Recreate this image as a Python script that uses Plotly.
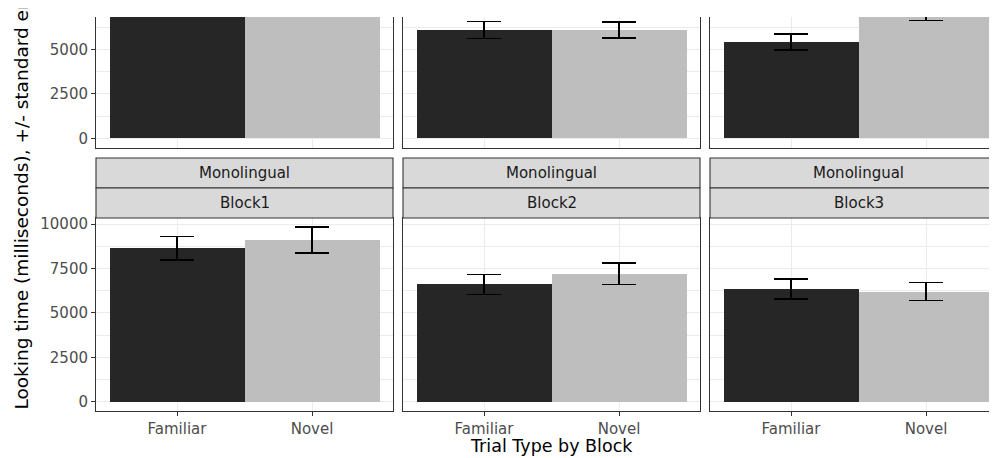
import plotly.graph_objects as go
from plotly.subplots import make_subplots

# ---------------- data ----------------
groups = ["Bilingual", "Monolingual"]
blocks = ["Block1", "Block2", "Block3"]
trial_types = ["Familiar", "Novel"]

bilingual_familiar = [8000, 6100, 5420]
bilingual_novel = [8400, 6110, 7100]
bilingual_familiar_se = [600, 470, 440]
bilingual_novel_se = [650, 450, 460]

monolingual_familiar = [8640, 6600, 6350]
monolingual_novel = [9110, 7200, 6200]
monolingual_familiar_se = [660, 560, 570]
monolingual_novel_se = [730, 600, 510]

y_ticks = [0, 2500, 5000, 7500, 10000]
x_title = "Trial Type by Block"
y_title = "Looking time (milliseconds), +/- standard error"

# ---------------- layout constants (screen pixels) ----------------
OFF = 8                     # default page body margin
W, H = 997 - OFF, 458 - OFF  # figure size so that the page fits the window
FONT = "DejaVu Sans"
TICK_SIZE = 15
bar_colors = ["#262626", "#BEBEBE"]
col_left = [96, 403, 710]
panel_w = 297
unit_px = panel_w / 2.2
rows_px = [(17, 147.7), (218, 411)]
y_full = [-523, 10338]
px_per_unit = (rows_px[1][1] - rows_px[1][0]) / (y_full[1] - y_full[0])
top_visible = y_full[0] + (rows_px[0][1] - rows_px[0][0]) / px_per_unit


def px(xs):
    return (xs - OFF) / W


def py(ys):
    return 1 - (ys - OFF) / H


series = {
    "Bilingual": (bilingual_familiar, bilingual_novel, bilingual_familiar_se, bilingual_novel_se),
    "Monolingual": (monolingual_familiar, monolingual_novel, monolingual_familiar_se, monolingual_novel_se),
}

fig = make_subplots(rows=2, cols=3)

for r, g in enumerate(groups):
    fam, nov, fam_se, nov_se = series[g]
    for c in range(3):
        fig.add_trace(
            go.Bar(
                x=trial_types,
                y=[fam[c], nov[c]],
                width=[1, 1],
                marker=dict(color=bar_colors, line=dict(width=0)),
                error_y=dict(type="data", array=[fam_se[c], nov_se[c]],
                             color="black", thickness=1.6, width=17),
                showlegend=False,
            ),
            row=r + 1, col=c + 1,
        )

for r in range(2):
    for c in range(3):
        idx = r * 3 + c + 1
        xa = "xaxis" if idx == 1 else f"xaxis{idx}"
        ya = "yaxis" if idx == 1 else f"yaxis{idx}"
        right_px = min(col_left[c] + panel_w, 997)
        visible_w = right_px - col_left[c]
        xr = [-0.6, -0.6 + visible_w / unit_px]
        top_px, bot_px = rows_px[r]
        yr = [y_full[0], top_visible] if r == 0 else y_full
        bottom = r == 1
        fig.layout[xa].update(
            domain=[px(col_left[c]), min(1.0, px(right_px))], range=xr, type="category",
            categoryorder="array", categoryarray=trial_types,
            showgrid=True, gridcolor="#EBEBEB", gridwidth=1.07,
            showline=True, linecolor="#333333", linewidth=1,
            mirror=bottom, zeroline=False,
            ticks="outside" if bottom else "", ticklen=4, tickcolor="#333333",
            tickwidth=1, showticklabels=bottom,
            tickfont=dict(family=FONT, size=TICK_SIZE, color="#4D4D4D"),
            automargin=False, fixedrange=True,
        )
        fig.layout[ya].update(
            domain=[py(bot_px), py(top_px)], range=yr,
            tickmode="array", tickvals=y_ticks, ticktext=[str(v) for v in y_ticks],
            showgrid=True, gridcolor="#EBEBEB", gridwidth=1.07,
            minor=dict(tickmode="linear", tick0=1250, dtick=2500, showgrid=True,
                       gridcolor="#EBEBEB", gridwidth=0.55, ticks=""),
            showline=True, linecolor="#333333", linewidth=1,
            mirror=(c < 2), zeroline=False,
            ticks="outside" if c == 0 else "", ticklen=4, tickcolor="#333333",
            tickwidth=1, showticklabels=(c == 0),
            tickfont=dict(family=FONT, size=TICK_SIZE, color="#4D4D4D"),
            automargin=False, fixedrange=True,
        )

# strips for the bottom row (Monolingual + block)
shapes = []
annotations = []
strip_rows = [(158, 188), (188, 218)]
for c in range(3):
    labels = [groups[1], blocks[c]]
    for (t, b), lab in zip(strip_rows, labels):
        shapes.append(dict(type="rect", xref="paper", yref="paper",
                           x0=px(col_left[c]), x1=px(col_left[c] + panel_w),
                           y0=py(b), y1=py(t),
                           fillcolor="#D9D9D9", line=dict(color="#333333", width=1.1),
                           layer="above"))
        annotations.append(dict(x=px(col_left[c] + panel_w / 2), y=py((t + b) / 2),
                                xref="paper", yref="paper",
                                text=lab, showarrow=False,
                                font=dict(family=FONT, size=TICK_SIZE, color="#1A1A1A"),
                                xanchor="center", yanchor="middle"))

annotations.append(dict(x=px(col_left[1] + panel_w / 2), y=py(446),
                        xref="paper", yref="paper", text=x_title, showarrow=False,
                        font=dict(family=FONT, size=17.5, color="black"),
                        xanchor="center", yanchor="middle"))
annotations.append(dict(x=px(21), y=py(412), xref="paper", yref="paper",
                        text=y_title, showarrow=False, textangle=-90,
                        font=dict(family=FONT, size=18.5, color="black"),
                        xanchor="center", yanchor="bottom"))

fig.update_layout(
    width=W, height=H,
    margin=dict(l=0, r=0, t=0, b=0),
    paper_bgcolor="white", plot_bgcolor="white",
    bargap=0, showlegend=False,
    shapes=shapes, annotations=annotations,
    font=dict(family=FONT),
)

fig.write_html("out.html")
